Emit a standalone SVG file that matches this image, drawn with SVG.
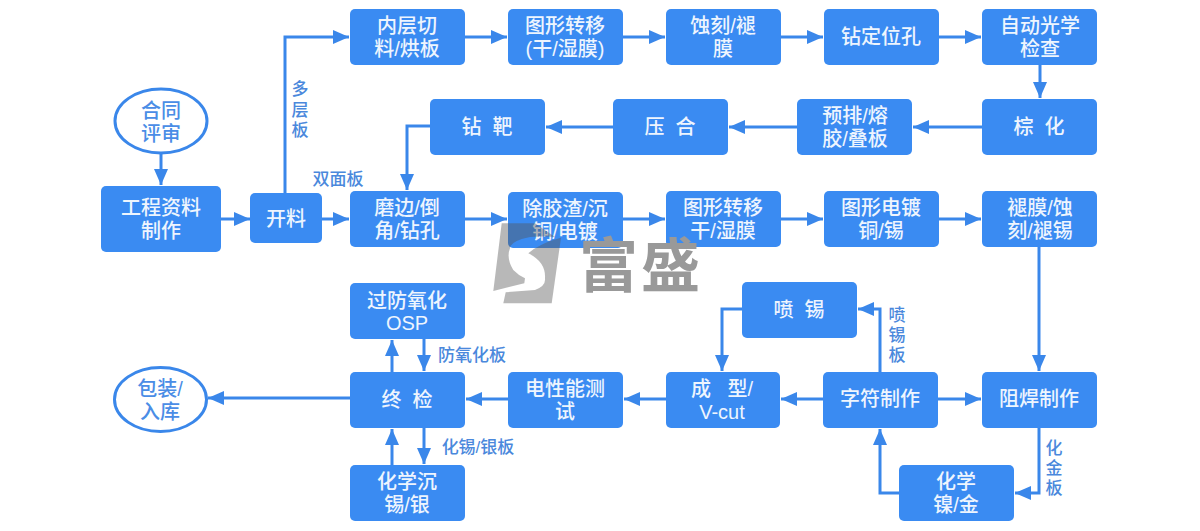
<svg xmlns="http://www.w3.org/2000/svg" width="1200" height="531" viewBox="0 0 1200 531">
<style>
text{font-family:"Liberation Sans","Noto Sans CJK SC",sans-serif;text-anchor:middle;white-space:pre}
.b{fill:#3a8bf2}
.t{fill:#eef5fe;font-size:20px;font-weight:500}
.e{fill:#fff;stroke:#3a87ea;stroke-width:3}
.et{fill:#4a8de6;font-size:20px;font-weight:500}
.l{fill:#4a88dc;font-size:17px;font-weight:500}
.c{fill:none;stroke:#3a87ea;stroke-width:3;marker-end:url(#a)}
</style>
<defs>
<marker id="a" markerUnits="userSpaceOnUse" markerWidth="18" markerHeight="16" refX="16" refY="8" orient="auto"><path d="M0 1L16 8L0 15Z" fill="#3a87ea"/></marker>
</defs>
<rect width="1200" height="531" fill="#fff"/>
<g id="connectors">
<path class="c" d="M161 153V185"/>
<path class="c" d="M221 219H250"/>
<path class="c" d="M322 219H349"/>
<path class="c" d="M285 193V37H349"/>
<path class="c" d="M465 37H507"/>
<path class="c" d="M623 37H665"/>
<path class="c" d="M781 37H823"/>
<path class="c" d="M939 37H981"/>
<path class="c" d="M1040 65V98"/>
<path class="c" d="M982 127H913"/>
<path class="c" d="M797 127H729"/>
<path class="c" d="M613 127H546"/>
<path class="c" d="M430 126H407V190"/>
<path class="c" d="M465 219H507"/>
<path class="c" d="M623 219H665"/>
<path class="c" d="M781 219H823"/>
<path class="c" d="M939 219H981"/>
<path class="c" d="M1039 247V371"/>
<path class="c" d="M938 399H981"/>
<path class="c" d="M823 399H781"/>
<path class="c" d="M666 399H624"/>
<path class="c" d="M508 399H466"/>
<path class="c" d="M350 398H208"/>
<path class="c" d="M880 372V309H858"/>
<path class="c" d="M742 309H722V371"/>
<path class="c" d="M1039 428V493H1015"/>
<path class="c" d="M899 493H880V429"/>
<path class="c" d="M392 372V340"/>
<path class="c" d="M424 339V371"/>
<path class="c" d="M392 465V429"/>
<path class="c" d="M424 428V464"/>
</g>
<g id="n-hetong"><ellipse class="e" cx="161" cy="121" rx="46" ry="32"/><text class="et" x="161" y="118">合同</text><text class="et" x="161" y="141">评审</text></g>
<g id="n-gongcheng"><rect class="b" x="101" y="186" width="120" height="66" rx="5"/><text class="t" x="161" y="215">工程资料</text><text class="t" x="161" y="238">制作</text></g>
<g id="n-kailiao"><rect class="b" x="250" y="193" width="72" height="50" rx="5"/><text class="t" x="286" y="226">开料</text></g>
<g id="n-neiceng"><rect class="b" x="350" y="9" width="115" height="56" rx="5"/><text class="t" x="407" y="33">内层切</text><text class="t" x="407" y="56">料/烘板</text></g>
<g id="n-tuxing1"><rect class="b" x="508" y="9" width="115" height="56" rx="5"/><text class="t" x="565" y="33">图形转移</text><text class="t" x="565" y="56">(干/湿膜)</text></g>
<g id="n-shike"><rect class="b" x="666" y="9" width="115" height="56" rx="5"/><text class="t" x="723" y="33">蚀刻/褪</text><text class="t" x="723" y="56">膜</text></g>
<g id="n-zuanding"><rect class="b" x="824" y="9" width="115" height="56" rx="5"/><text class="t" x="881" y="44">钻定位孔</text></g>
<g id="n-aoi"><rect class="b" x="982" y="9" width="115" height="56" rx="5"/><text class="t" x="1040" y="33">自动光学</text><text class="t" x="1040" y="56">检查</text></g>
<g id="n-zonghua"><rect class="b" x="982" y="99" width="115" height="56" rx="5"/><text class="t" x="1039" y="134">棕  化</text></g>
<g id="n-yupai"><rect class="b" x="797" y="99" width="115" height="56" rx="5"/><text class="t" x="855" y="123">预排/熔</text><text class="t" x="855" y="146">胶/叠板</text></g>
<g id="n-yahe"><rect class="b" x="613" y="99" width="115" height="56" rx="5"/><text class="t" x="670" y="134">压  合</text></g>
<g id="n-zuanba"><rect class="b" x="430" y="99" width="115" height="56" rx="5"/><text class="t" x="487" y="134">钻  靶</text></g>
<g id="n-mobian"><rect class="b" x="350" y="191" width="115" height="56" rx="5"/><text class="t" x="407" y="215">磨边/倒</text><text class="t" x="407" y="238">角/钻孔</text></g>
<g id="n-chujiao"><rect class="b" x="508" y="192" width="115" height="56" rx="5"/><text class="t" x="565" y="216">除胶渣/沉</text><text class="t" x="565" y="239">铜/电镀</text></g>
<g id="n-tuxing2"><rect class="b" x="666" y="191" width="115" height="56" rx="5"/><text class="t" x="723" y="215">图形转移</text><text class="t" x="723" y="238">干/湿膜</text></g>
<g id="n-dianduo"><rect class="b" x="824" y="191" width="115" height="56" rx="5"/><text class="t" x="881" y="215">图形电镀</text><text class="t" x="881" y="238">铜/锡</text></g>
<g id="n-tuimo"><rect class="b" x="982" y="191" width="115" height="56" rx="5"/><text class="t" x="1040" y="215">褪膜/蚀</text><text class="t" x="1040" y="238">刻/褪锡</text></g>
<g id="n-zuhan"><rect class="b" x="982" y="372" width="115" height="56" rx="5"/><text class="t" x="1039" y="406">阻焊制作</text></g>
<g id="n-zifu"><rect class="b" x="823" y="372" width="115" height="56" rx="5"/><text class="t" x="880" y="406">字符制作</text></g>
<g id="n-chengxing"><rect class="b" x="666" y="372" width="114" height="56" rx="5"/><text class="t" x="722" y="396">成   型/</text><text class="t" x="722" y="419">V-cut</text></g>
<g id="n-dianxing"><rect class="b" x="508" y="372" width="115" height="56" rx="5"/><text class="t" x="565" y="396">电性能测</text><text class="t" x="565" y="419">试</text></g>
<g id="n-zhongjian"><rect class="b" x="350" y="372" width="115" height="56" rx="5"/><text class="t" x="407" y="407">终  检</text></g>
<g id="n-osp"><rect class="b" x="350" y="283" width="115" height="56" rx="5"/><text class="t" x="407" y="308">过防氧化</text><text class="t" x="407" y="330">OSP</text></g>
<g id="n-chenxi"><rect class="b" x="350" y="465" width="115" height="56" rx="5"/><text class="t" x="407" y="489">化学沉</text><text class="t" x="407" y="512">锡/银</text></g>
<g id="n-penxi"><rect class="b" x="742" y="282" width="115" height="56" rx="5"/><text class="t" x="799" y="317">喷  锡</text></g>
<g id="n-nie"><rect class="b" x="899" y="465" width="115" height="56" rx="5"/><text class="t" x="956" y="489">化学</text><text class="t" x="956" y="512">镍/金</text></g>
<g id="n-baozhuang"><ellipse class="e" cx="160.500" cy="399.500" rx="46" ry="32"/><text class="et" x="160" y="396">包装/</text><text class="et" x="160" y="419">入库</text></g>
<g id="labels">
<text class="l" x="300" y="95">多</text><text class="l" x="300" y="116">层</text><text class="l" x="300" y="136">板</text>
<text class="l" x="338" y="185">双面板</text>
<text class="l" x="472" y="361">防氧化板</text>
<text class="l" x="478" y="453">化锡/银板</text>
<text class="l" x="897" y="321">喷</text><text class="l" x="897" y="341">锡</text><text class="l" x="897" y="361">板</text>
<text class="l" x="1054" y="454">化</text><text class="l" x="1054" y="474">金</text><text class="l" x="1054" y="494">板</text>
</g>
<g id="watermark">
<path d="M501.700 223.300H535L555 237C540 236 530 236 521.700 239Q510 243 510 248.300Q506 258 513.300 270Q518 275 525 278.300L524.300 283.300L493.300 291Z" fill="#555" fill-opacity=".42"/>
<path d="M561 237.700L551.700 303.300H503.300L505.700 292.300L535 290Q546 286 545 278.300Q546 262 528.300 253.300Q540 243 561 237.700Z" fill="#555" fill-opacity=".42"/>
<text x="579" y="287" style="font-family:'Noto Sans CJK SC',sans-serif;text-anchor:start;font-size:59px;font-weight:700;letter-spacing:3px;fill:#999">富盛</text>
</g>
</svg>
